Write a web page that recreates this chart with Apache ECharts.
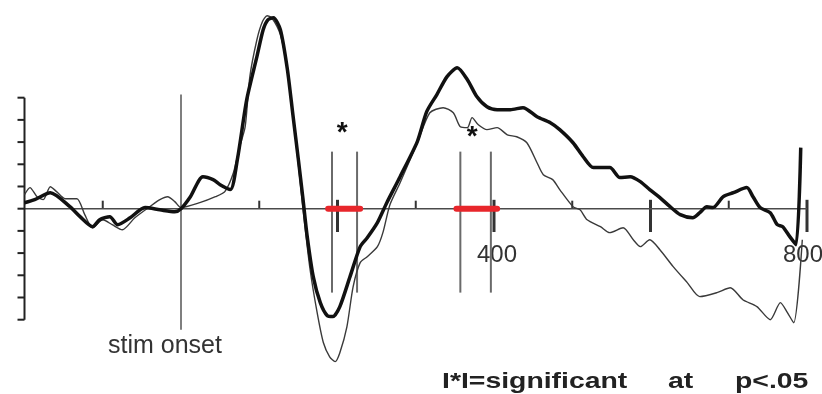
<!DOCTYPE html>
<html>
<head>
<meta charset="utf-8">
<script src="https://cdn.jsdelivr.net/npm/echarts@6/dist/echarts.min.js"></script>
<style>
html,body{margin:0;padding:0;background:#fff;}
#c{width:822px;height:394px;}
</style>
</head>
<body>
<div id="c"></div>
<script>
// ---- data (time in ms, amplitude in arbitrary µV units) ----
const thickTime = [-200,-187,-167,-142,-129,-113,-104,-91,-81,-65,-46,-27,-8,0,12,28,41,50,63,72,84,97,105,111,118,127,136,143,150,156,161,169,178,187,194,203,216,229,238,251,263,280,302,314,327,340,353,366,378,391,404,421,437,455,472,484,501,514,527,548,561,574,587,599,612,625,638,654,663,672,680,693,706,723,731,740,753,762,769,778,786,792];
const thickAmp = [0.27,0.41,0.72,0.09,-0.36,-0.81,-0.5,-0.36,-0.72,-0.41,0.05,-0.05,-0.14,0,0.54,1.44,1.31,1.08,0.86,2.21,4.91,6.85,8.06,8.51,8.6,8.06,6.26,4.23,2.21,0.41,-1.17,-3.06,-4.23,-4.82,-4.86,-4.41,-3.06,-1.71,-1.31,-0.63,0.27,1.44,3.02,4.37,5.14,5.95,6.35,5.81,5.05,4.59,4.46,4.46,4.55,4.14,3.87,3.56,2.97,2.34,1.85,1.85,1.4,1.44,1.22,0.86,0.5,0.09,-0.27,-0.41,-0.18,0.09,0.05,0.54,0.72,0.95,0.54,0.05,-0.18,-0.72,-0.81,-1.26,-1.62,2.75];
const thinTime = [-200,-193,-184,-176,-167,-159,-148,-133,-123,-113,-100,-88,-75,-59,-40,-27,-17,-8,0,24,44,56,67,75,82,88,97,104,110,116,127,136,143,150,156,165,174,182,190,197,203,212,220,229,238,251,258,267,280,302,318,335,348,357,366,372,380,391,404,417,429,442,455,463,475,484,501,510,519,536,548,565,578,587,599,612,629,647,663,685,702,718,736,753,766,775,783,794];
const thinAmp = [0.63,0.95,0.54,0.41,0.99,0.77,0.45,0.45,-0.27,-0.86,-0.5,-0.72,-0.95,-0.41,0.09,0.41,0.54,0.32,0.05,0.27,0.54,0.77,1.62,2.79,3.69,5.95,7.61,8.42,8.69,8.6,7.84,6.26,4.23,1.98,-0.05,-2.75,-4.68,-6.04,-6.67,-6.89,-6.49,-5.32,-3.51,-2.43,-2.16,-1.71,-1.08,0.18,1.17,2.97,4.32,4.55,4.32,3.69,3.65,4.1,3.78,3.56,3.65,3.33,3.24,2.97,2.07,1.53,1.31,0.86,0.09,-0.05,-0.5,-0.81,-1.08,-0.86,-1.4,-1.71,-1.4,-1.85,-2.61,-3.33,-3.96,-3.78,-3.56,-4.1,-4.41,-5,-4.23,-4.68,-5.14,-1.4];

const yTicks = [-5,-4,-3,-2,-1,0,1,2,3,4,5];
const minorTicks = [-100,100,300,500,700];
const majorTicks = [200,400,600,800];
const tickLabels = ['400','800'];
const onsetTime = 0;
const onsetRange = [-5.45, 5.14];
const sigLines = [193,225,357,396];
const sigRange = [-3.78, 2.57];
const sigWindows = [[188,229],[352,404]];
const starTime = [206,372];
const starAmp = [3.65,3.47];
const onsetLabel = 'stim onset';
const noteWords = ['I*I=significant','at','p<.05'];

// ---- chart ----
const chart = echarts.init(document.getElementById('c'));
const FONT = 'Liberation Sans, Arial, Helvetica, sans-serif';

function zip(a,b){ return a.map((v,i)=>[v,b[i]]); }

const option = {
  animation: false,
  backgroundColor: '#ffffff',
  grid: {left: 24.5, top: 0, width: 782.5, height: 386.3},
  xAxis: {type:'value', min:-200, max:800, show:false},
  yAxis: {type:'value', min:-8, max:9.4, show:false},
  graphic: [
    {type:'text', x:165, y:346.5, style:{text:onsetLabel, fontSize:25, fontFamily:FONT, fill:'#333', align:'center', verticalAlign:'middle'}},
    {type:'text', x:477, y:255.5, style:{text:tickLabels[0], fontSize:24, fontFamily:FONT, fill:'#333', align:'left', verticalAlign:'middle'}},
    {type:'text', x:783, y:255.5, style:{text:tickLabels[1], fontSize:24, fontFamily:FONT, fill:'#333', align:'left', verticalAlign:'middle'}},
    {type:'text', x:442, y:381.5, scaleX:1.29, style:{text:noteWords[0], fontSize:22, fontWeight:'bold', fontFamily:FONT, fill:'#222', align:'left', verticalAlign:'middle'}},
    {type:'text', x:668, y:381.5, scaleX:1.29, style:{text:noteWords[1], fontSize:22, fontWeight:'bold', fontFamily:FONT, fill:'#222', align:'left', verticalAlign:'middle'}},
    {type:'text', x:735, y:381.5, scaleX:1.29, style:{text:noteWords[2], fontSize:22, fontWeight:'bold', fontFamily:FONT, fill:'#222', align:'left', verticalAlign:'middle'}}
  ],
  series: [
    // baseline
    {type:'line', data:[[-200,0],[800,0]], symbol:'none', lineStyle:{color:'#4a4a4a', width:1.5}, z:2, silent:true},
    // y axis line
    {type:'line', data:[[-200,yTicks[0]],[-200,yTicks[yTicks.length-1]]], symbol:'none', lineStyle:{color:'#222', width:2}, z:2, silent:true},
    // y ticks
    {type:'custom', z:2, silent:true, data: yTicks.map(v=>[-200,v]),
      renderItem:(p,api)=>{ const c=api.coord([api.value(0),api.value(1)]);
        return {type:'line', shape:{x1:c[0]-7,y1:c[1],x2:c[0],y2:c[1]}, style:{stroke:'#222', lineWidth:2}}; }},
    // minor x ticks
    {type:'custom', z:2, silent:true, data: minorTicks.map(t=>[t,0]),
      renderItem:(p,api)=>{ const c=api.coord([api.value(0),0]);
        return {type:'line', shape:{x1:c[0],y1:c[1],x2:c[0],y2:c[1]-8}, style:{stroke:'#333', lineWidth:2}}; }},
    // major x ticks
    {type:'custom', z:2, silent:true, data: majorTicks.map(t=>[t,0]),
      renderItem:(p,api)=>{ const a=api.coord([api.value(0),0.4]); const b=api.coord([api.value(0),-1.05]);
        return {type:'line', shape:{x1:a[0],y1:a[1],x2:b[0],y2:b[1]}, style:{stroke:'#333', lineWidth:3}}; }},
    // stim onset line
    {type:'line', data:[[onsetTime,onsetRange[0]],[onsetTime,onsetRange[1]]], symbol:'none', lineStyle:{color:'#555', width:1.5}, z:2, silent:true},
    // significance lines
    {type:'custom', z:2, silent:true, data: sigLines.map(t=>[t,0]),
      renderItem:(p,api)=>{ const a=api.coord([api.value(0),sigRange[1]]); const b=api.coord([api.value(0),sigRange[0]]);
        return {type:'line', shape:{x1:a[0],y1:a[1],x2:b[0],y2:b[1]}, style:{stroke:'#6a6a6a', lineWidth:2}}; }},
    // thin waveform
    {type:'line', data: zip(thinTime,thinAmp), symbol:'none', smooth:0.25, lineStyle:{color:'#3a3a3a', width:1.4, join:'round'}, z:3, silent:true},
    // thick waveform
    {type:'line', data: zip(thickTime,thickAmp), symbol:'none', smooth:0.25, lineStyle:{color:'#111', width:3.5, join:'round'}, z:4, silent:true},
    // red significance bars
    {type:'custom', z:5, silent:true, data: sigWindows.map(w=>[w[0],w[1]]),
      renderItem:(p,api)=>{ const a=api.coord([api.value(0),0]); const b=api.coord([api.value(1),0]);
        return {type:'line', shape:{x1:a[0],y1:a[1],x2:b[0],y2:b[1]}, style:{stroke:'#e8262b', lineWidth:6, lineCap:'round'}}; }},
    // asterisks
    {type:'custom', z:6, silent:true, data: zip(starTime,starAmp),
      renderItem:(p,api)=>{ const c=api.coord([api.value(0),api.value(1)]);
        return {type:'text', x:c[0], y:c[1]+6, style:{text:'*', fontSize:28, fontWeight:'bold', fontFamily:FONT, fill:'#111', align:'center', verticalAlign:'middle'}}; }}
  ]
};
chart.setOption(option);
</script>
</body>
</html>
